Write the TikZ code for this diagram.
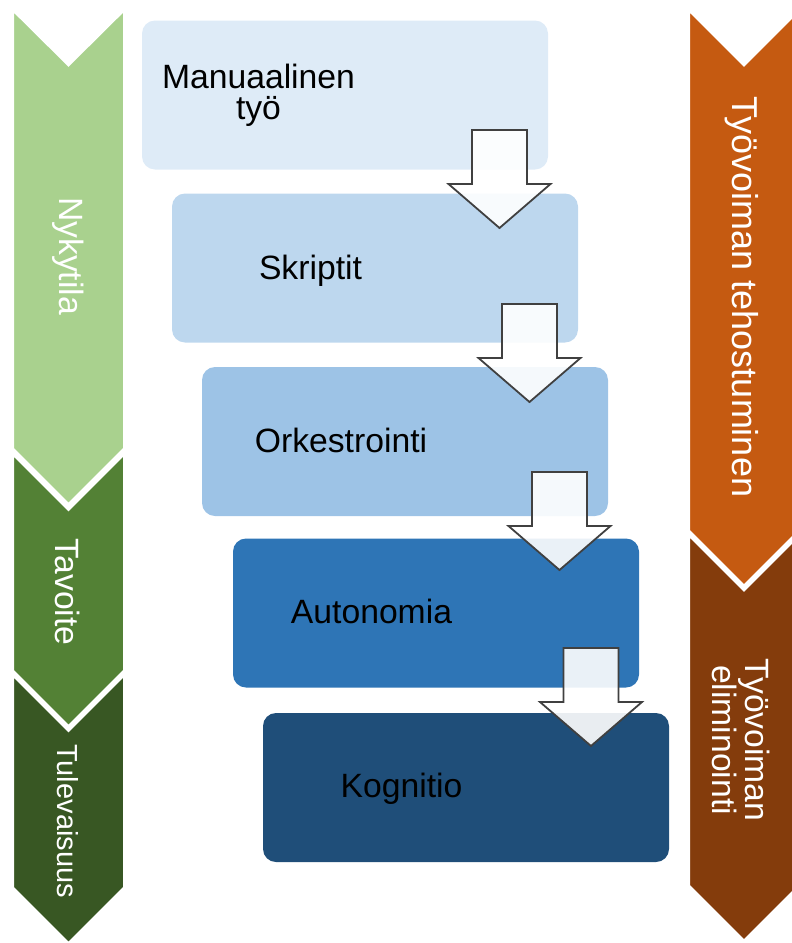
\documentclass[tikz,border=0pt]{standalone}
\usepackage{fontspec}
\setmainfont{Liberation Sans}
\definecolor{lgreen}{HTML}{A9D18E}
\definecolor{mgreen}{HTML}{538135}
\definecolor{dgreen}{HTML}{385723}
\definecolor{orng}{HTML}{C55A11}
\definecolor{brwn}{HTML}{843C0C}
\definecolor{bA}{HTML}{DEEBF7}
\definecolor{bB}{HTML}{BDD7EE}
\definecolor{bC}{HTML}{9DC3E6}
\definecolor{bD}{HTML}{2E75B6}
\definecolor{bE}{HTML}{1F4E79}
\begin{document}
\begin{tikzpicture}[x=1pt,y=-1pt,
  every node/.style={font=\fontsize{33.7}{31}\selectfont},
  chev/.style={draw=white,line width=4pt,line join=miter},
  box/.style={rounded corners=13pt,minimum width=406pt,minimum height=149pt,inner sep=0pt},
  boxtext/.style={text=black,anchor=base,inner sep=0pt},
  chevtext/.style={text=white,rotate=-90,inner sep=0pt,align=center},
  blockarrow/.style={fill=white,fill opacity=0.9,draw=black!75,line width=1.8pt,line join=miter},
  downarr/.pic={\path[blockarrow] (-27.5,0) -- (27.5,0) -- (27.5,54) -- (51,54) -- (0,98) -- (-51,54) -- (-27.5,54) -- cycle;}
]
\useasboundingbox (0,0) rectangle (792,943);
\clip (0,0) rectangle (792,943);
% left chevrons
\path[chev,fill=lgreen] (12,8) -- (68.5,64) -- (125,8) -- (125,449) -- (68.5,505.5) -- (12,449) -- cycle;
\path[chev,fill=mgreen] (12,452) -- (68.5,508.5) -- (125,452) -- (125,671) -- (68.5,727.5) -- (12,671) -- cycle;
\path[chev,fill=dgreen] (12,673) -- (68.5,729.5) -- (125,673) -- (125,888) -- (68.5,944.5) -- (12,888) -- cycle;
\node[chevtext] (nyk) at (68,256) {Nykytila};
\node[chevtext] (tav) at (68,592) {Tavoite};
\node[chevtext,font=\fontsize{29}{31}\selectfont] (tul) at (68,821) {Tulevaisuus};
% right chevrons
\path[chev,fill=orng] (688,8) -- (744,64) -- (800,8) -- (800,531) -- (744,587) -- (688,531) -- cycle;
\path[chev,fill=brwn] (688,533) -- (744,589) -- (800,533) -- (800,886) -- (744,942) -- (688,886) -- cycle;
\node[chevtext,font=\fontsize{36}{31}\selectfont] (teh) at (742,297) {Työvoiman tehostuminen};
\node[chevtext] (eli) at (741,740) {Työvoiman\\eliminointi};
% boxes
\node[box,fill=bA] (b1) at (345,95) {};
\node[box,fill=bB] (b2) at (375,268) {};
\node[box,fill=bC] (b3) at (405,441.5) {};
\node[box,fill=bD] (b4) at (436,613) {};
\node[box,fill=bE] (b5) at (466,787.5) {};
\node[text=black,inner sep=0pt,align=center] (t1) at (258.5,95.7) {Manuaalinen\\työ};
\node[boxtext] (t2) at (310.5,279) {Skriptit};
\node[boxtext] (t3) at (341,452) {Orkestrointi};
\node[boxtext] (t4) at (371.5,623) {Autonomia};
\node[boxtext] (t5) at (401.5,797) {Kognitio};
% block arrows
\pic at (499.5,130) {downarr};
\pic at (529.5,304) {downarr};
\pic at (559.5,472) {downarr};
\pic at (591,648) {downarr};
\end{tikzpicture}
\end{document}
